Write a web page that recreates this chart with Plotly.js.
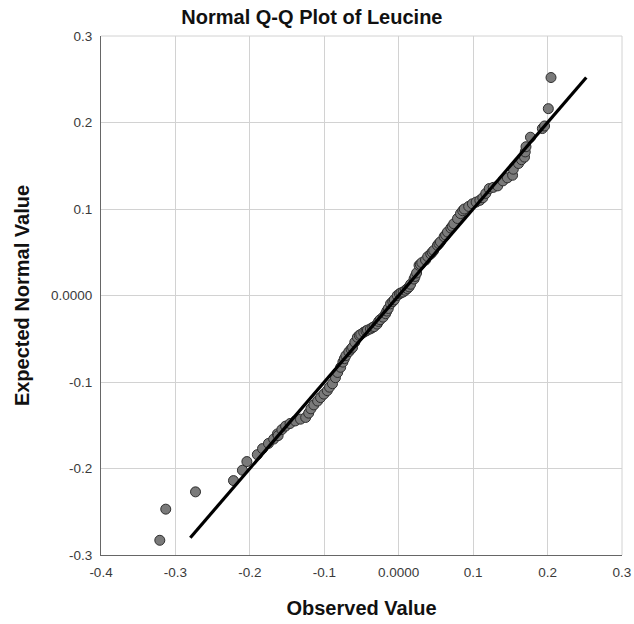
<!DOCTYPE html>
<html>
<head>
<meta charset="utf-8">
<script src="https://cdn.plot.ly/plotly-3.0.1.min.js"></script>
<style>html,body{margin:0;padding:0;background:#fff;}#chart{width:634px;height:624px;}</style>
</head>
<body>
<div id="chart"></div>
<script>
const observed = [
  -0.321, -0.313, -0.273, -0.222, -0.210, -0.204, -0.190, -0.183, -0.175, -0.168,
  -0.163, -0.162, -0.157, -0.152, -0.146, -0.139, -0.132, -0.125, -0.121, -0.118,
  -0.114, -0.109, -0.105, -0.1005, -0.096, -0.093, -0.089, -0.085, -0.082, -0.078,
  -0.075, -0.073, -0.071, -0.067, -0.064, -0.062, -0.059, -0.0556, -0.053, -0.051,
  -0.047, -0.044, -0.042, -0.038, -0.035, -0.033, -0.029, -0.027, -0.025, -0.021,
  -0.0175, -0.016, -0.014, -0.011, -0.008, -0.006, -0.002, 0.001, 0.003, 0.006,
  0.009, 0.0117, 0.014, 0.016, 0.0206, 0.022, 0.024, 0.0273, 0.029, 0.031,
  0.036, 0.039, 0.043, 0.045, 0.047, 0.052, 0.054, 0.056, 0.061, 0.063,
  0.0655, 0.070, 0.072, 0.074, 0.079, 0.083, 0.086, 0.088, 0.094, 0.099,
  0.104, 0.109, 0.113, 0.117, 0.1216, 0.127, 0.133, 0.140, 0.146, 0.153,
  0.154, 0.161, 0.165, 0.169, 0.170, 0.171, 0.177, 0.193, 0.196, 0.201, 0.2046
];
const expected = [
  -0.283, -0.247, -0.227, -0.214, -0.202, -0.192, -0.184, -0.177, -0.171, -0.166,
  -0.160, -0.162, -0.155, -0.151, -0.148, -0.145, -0.143, -0.141, -0.136, -0.131,
  -0.1265, -0.122, -0.118, -0.114, -0.110, -0.106, -0.102, -0.095, -0.089, -0.083,
  -0.077, -0.073, -0.0695, -0.065, -0.062, -0.060, -0.054, -0.0483, -0.046, -0.045,
  -0.0425, -0.041, -0.040, -0.0386, -0.037, -0.036, -0.033, -0.030, -0.028, -0.025,
  -0.021, -0.018, -0.015, -0.0096, -0.007, -0.005, 0.000, 0.002, 0.003, 0.004,
  0.006, 0.008, 0.010, 0.013, 0.019, 0.022, 0.026, 0.0348, 0.036, 0.038,
  0.041, 0.045, 0.048, 0.050, 0.052, 0.058, 0.060, 0.062, 0.068, 0.070,
  0.0734, 0.078, 0.080, 0.083, 0.089, 0.0947, 0.098, 0.100, 0.103, 0.106,
  0.108, 0.110, 0.113, 0.118, 0.1236, 0.125, 0.1267, 0.1325, 0.136, 0.139,
  0.146, 0.1526, 0.157, 0.160, 0.166, 0.172, 0.183, 0.193, 0.196, 0.216, 0.252
];
// Reference line endpoints (y = x)
const refLine = [-0.28, 0.252];

const xTickVals = [-0.4, -0.3, -0.2, -0.1, 0, 0.1, 0.2, 0.3];
const xTickText = ['-0.4', '-0.3', '-0.2', '-0.1', '0.0000', '0.1', '0.2', '0.3'];
const yTickVals = [-0.3, -0.2, -0.1, 0, 0.1, 0.2, 0.3];
const yTickText = ['-0.3', '-0.2', '-0.1', '0.0000', '0.1', '0.2', '0.3'];

const data = [
  {
    x: observed, y: expected, type: 'scatter', mode: 'markers',
    marker: {size: 10, color: '#7a7a7a', line: {color: '#2e2e2e', width: 1}}
  },
  {
    x: refLine, y: refLine, type: 'scatter', mode: 'lines',
    line: {color: '#000', width: 3.2}, hoverinfo: 'skip'
  }
];

const font = 'Arial, "Liberation Sans", sans-serif';
const layout = {
  width: 634, height: 624,
  margin: {l: 101, r: 12, t: 36, b: 69},
  paper_bgcolor: '#fff', plot_bgcolor: '#fff',
  showlegend: false,
  font: {family: font, color: '#333', size: 13.5},
  title: {text: '<b>Normal Q-Q Plot of Leucine</b>', x: 0.492, xref: 'container', xanchor: 'center',
          y: 0.972, yanchor: 'middle',
          font: {family: font, size: 20, color: '#111'}},
  xaxis: {
    range: [-0.4, 0.3], tickvals: xTickVals, ticktext: xTickText,
    showgrid: true, gridcolor: '#d2d2d2', gridwidth: 1, zeroline: false,
    showline: true, linecolor: '#666', linewidth: 1, ticks: '', ticklen: 0,
    ticklabelstandoff: 5,
    tickfont: {size: 13.5, color: '#3a3a3a'},
    automargin: false,
    title: {text: '<b>Observed Value</b>', font: {family: font, size: 20, color: '#111'}, standoff: 21}
  },
  yaxis: {
    range: [-0.3, 0.3], tickvals: yTickVals, ticktext: yTickText,
    showgrid: true, gridcolor: '#d2d2d2', gridwidth: 1, zeroline: false,
    showline: true, linecolor: '#666', linewidth: 1, ticks: '', ticklen: 0,
    ticklabelstandoff: 5,
    tickfont: {size: 13.5, color: '#3a3a3a'},
    automargin: false,
    title: {text: '<b>Expected Normal Value</b>', font: {family: font, size: 20, color: '#111'}, standoff: 16}
  },
  shapes: [
    {type: 'line', xref: 'paper', yref: 'paper', x0: 0, x1: 1, y0: 1, y1: 1, line: {color: '#d2d2d2', width: 1}},
    {type: 'line', xref: 'paper', yref: 'paper', x0: 1, x1: 1, y0: 0, y1: 1, line: {color: '#d2d2d2', width: 1}}
  ]
};

Plotly.newPlot('chart', data, layout, {displayModeBar: false, staticPlot: true});
</script>
</body>
</html>
